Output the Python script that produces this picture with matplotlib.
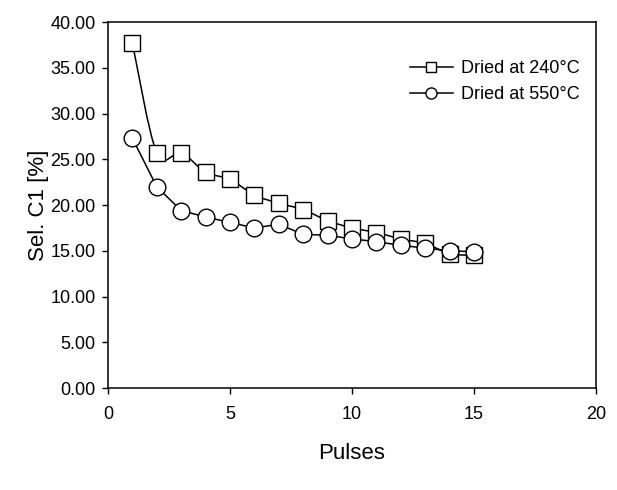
import numpy as np
import matplotlib
matplotlib.use("Agg")
import matplotlib.pyplot as plt
from matplotlib.path import Path
from matplotlib.patches import PathPatch
from matplotlib.lines import Line2D
from matplotlib.ticker import FormatStrFormatter

plt.rcParams['font.family'] = ['Liberation Sans', 'DejaVu Sans']

pulses = [1, 2, 3, 4, 5, 6, 7, 8, 9, 10, 11, 12, 13, 14, 15]
sel_240 = [37.7, 25.7, 25.7, 23.6, 22.8, 21.1, 20.2, 19.5, 18.3, 17.5, 17.0, 16.3, 15.8, 14.7, 14.5]
sel_550 = [27.3, 22.0, 19.4, 18.7, 18.1, 17.5, 17.9, 16.8, 16.7, 16.3, 16.0, 15.6, 15.3, 15.0, 14.9]
labels = ['Dried at 240°C', 'Dried at 550°C']


def smooth_path(x, y):
    # excel-like smoothed line: cubic bezier through the points
    pts = np.column_stack([x, y]).astype(float)
    n = len(pts)
    verts = [pts[0]]
    codes = [Path.MOVETO]
    for i in range(n - 1):
        p0 = pts[max(i - 1, 0)]
        p1 = pts[i]
        p2 = pts[i + 1]
        p3 = pts[min(i + 2, n - 1)]
        c1 = p1 + (p2 - p0) / 6.0
        c2 = p2 - (p3 - p1) / 6.0
        verts += [c1, c2, p2]
        codes += [Path.CURVE4] * 3
    return Path(verts, codes)


fig = plt.figure(figsize=(6.17, 4.9), dpi=100)
ax = fig.add_axes([0.175, 0.208, 0.791, 0.747])

ax.add_patch(PathPatch(smooth_path(pulses, sel_240), fill=False, ec='black', lw=1.1, zorder=2))
ax.plot(pulses, sel_240, ls='none', marker='s', ms=11, mfc='white', mec='black', mew=1.0, zorder=3)
ax.plot(pulses, sel_550, '-', color='black', lw=1.1, marker='o', ms=12, mfc='white', mec='black',
        mew=1.0, zorder=4)

ax.set_xlim(0, 20)
ax.set_ylim(0, 40)
ax.set_xticks(range(0, 21, 5))
ax.set_yticks(np.arange(0, 41, 5))
ax.yaxis.set_major_formatter(FormatStrFormatter('%.2f'))
ax.tick_params(direction='out', length=4, width=1, labelsize=13)
ax.tick_params(axis='y', pad=5)
ax.tick_params(axis='x', pad=9)
for s in ax.spines.values():
    s.set_linewidth(1.1)

ax.set_xlabel('Pulses', fontsize=16, labelpad=14)
ax.set_ylabel('Sel. C1 [%]', fontsize=16, labelpad=1)

handles = [
    Line2D([], [], color='black', lw=1.1, marker='s', ms=7, mfc='white', mec='black'),
    Line2D([], [], color='black', lw=1.1, marker='o', ms=8, mfc='white', mec='black'),
]
ax.legend(handles, labels, loc='upper right', bbox_to_anchor=(1.0, 0.94), frameon=False,
          fontsize=13, handlelength=2.4, handletextpad=0.45, labelspacing=0.5)

fig.savefig('out.png', dpi=100)
